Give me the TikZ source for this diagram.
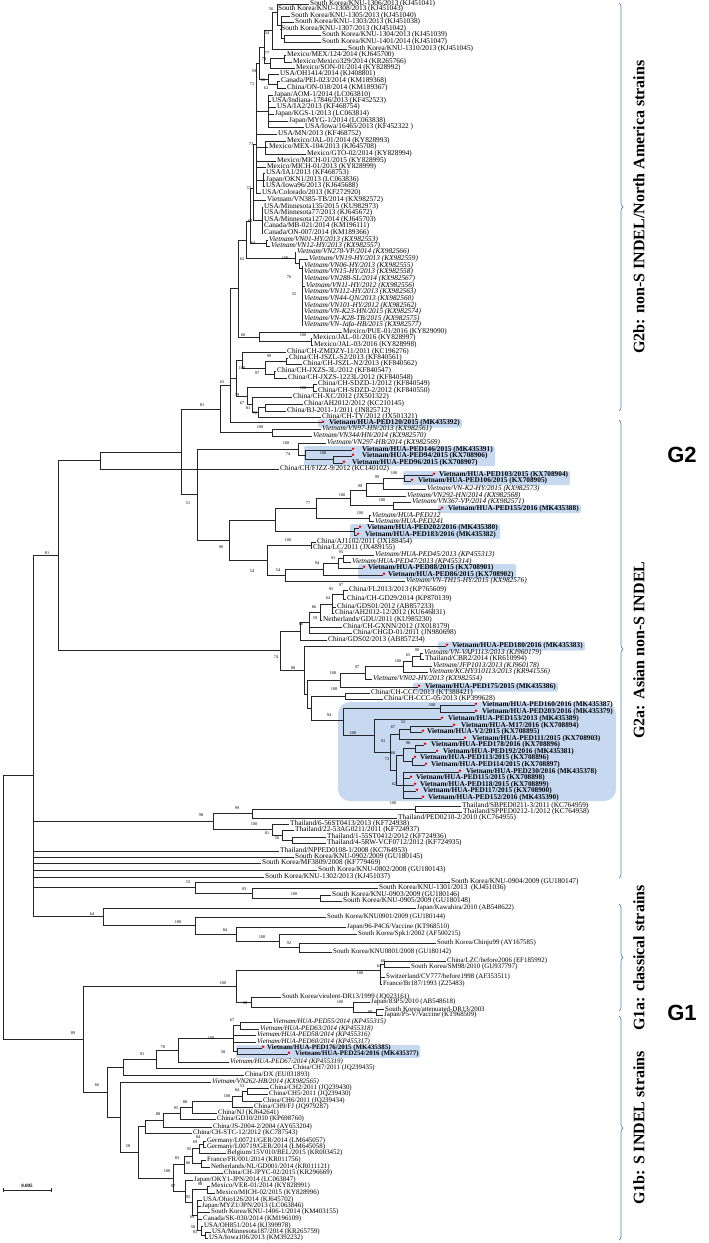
\documentclass[tikz,border=0pt]{standalone}
\usepackage{fontspec}
\setmainfont{Liberation Serif}
\newfontfamily\sansf{Liberation Sans}
\usetikzlibrary{decorations.pathreplacing}
\definecolor{hl}{RGB}{198,217,241}
\definecolor{brk}{RGB}{79,129,189}
\tikzset{
  br/.style={line width=0.6pt, draw=black!85, line cap=rect},
  lf/.style={anchor=west, inner sep=0pt, font=\fontsize{7.3}{8}\selectfont},
  li/.style={lf, font=\fontsize{7.3}{8}\selectfont\itshape},
  lb/.style={lf, font=\fontsize{7.3}{8}\selectfont\bfseries},
  lg/.style={anchor=west, inner sep=0pt, font=\fontsize{6.9}{8}\selectfont},
  lgi/.style={lg, font=\fontsize{6.9}{8}\selectfont\itshape},
  lgb/.style={lg, font=\fontsize{6.9}{8}\selectfont\bfseries},
  bsl/.style={inner sep=0pt, font=\fontsize{4.3}{5}\selectfont},
  hbox/.style={fill=hl, rounded corners=1.5pt},
  brace/.style={draw=brk, line width=0.7pt, decorate, decoration={brace, amplitude=4pt}},
  grp/.style={font=\fontsize{16}{17}\selectfont\bfseries, rotate=90, inner sep=0pt},
  big/.style={font=\sansf\fontsize{22}{23}\selectfont\bfseries, inner sep=0pt}
}
% clade: node x, ytop, ybot, list of y/x children
\newcommand\tcl[4]{\draw[br] (#1,#2) -- (#1,#3);
  \foreach \yy/\xx in {#4} {\draw[br] (#1,\yy) -- (\xx,\yy);}}
\newcommand\lfn[3]{\node[lf] (t#1) at (#2,#1) {#3};}
\newcommand\lfi[3]{\node[li] (t#1) at (#2,#1) {#3};}
\newcommand\lfb[4]{\fill[red] (#2,#1-1.2) circle (1.4); \node[lb] (t#1) at (#3,#1) {#4};}
\newcommand\lgn[3]{\node[lg] (t#1) at (#2,#1) {#3};}
\newcommand\lgi[3]{\node[lgi] (t#1) at (#2,#1) {#3};}
\newcommand\lgb[4]{\fill[red] (#2,#1-1.2) circle (1.4); \node[lgb] (t#1) at (#3,#1) {#4};}
\begin{document}
\begin{tikzpicture}[x=1pt,y=-1pt]
\useasboundingbox (0,0) rectangle (709,1243);
% highlight boxes
\fill[hbox] (318,419) rectangle (462,427.5);
\fill[hbox] (304,446) rectangle (495,466);
\fill[hbox] (403,471) rectangle (570,485);
\fill[hbox] (438,504.5) rectangle (581,513);
\fill[hbox] (350,524) rectangle (500,539);
\fill[hbox] (358,564) rectangle (516,579);
\fill[hbox] (438,641.5) rectangle (585,650.5);
\fill[hbox] (413,682.5) rectangle (558,691.5);
\fill[hl, rounded corners=12pt] (338,702) rectangle (616,801);
\fill[hbox] (236,1045) rectangle (420,1058);
% ---------------- G2b ----------------
\tcl{284}{35}{42}{35/321,42/321}
\tcl{281}{16}{38.5}{16/290,22/294,29/280,38.5/284}
\tcl{277}{4}{25}{4/309,9/277,25/281}
\tcl{272}{12}{49}{12/277,49/347}
\tcl{284}{55}{62}{55/286,62/292}
\tcl{270}{58.5}{68}{58.5/284,68/295}
\tcl{277}{81}{88}{81/280,88/286}
\tcl{268}{74}{84.5}{74/279,84.5/277}
\tcl{264}{30.5}{63}{30.5/272,63/270}
\tcl{259}{47}{79}{47/264,79/268}
\tcl{268}{95}{127}{95/273,101/271,107/276,114/274,121/288,127/304}
\tcl{265}{141}{154}{141/286,147/268,154/306}
\tcl{263}{173}{186}{173/265,180/265,186/265}
\tcl{262}{207}{233}{207/263,213/263,220/263,226/263,233/263}
\tcl{266}{240}{246}{240/268,246/270}
\tcl{256}{63}{193}{63/259,111/268,134/277,147/265,161/276,167/266,180/263,193/261}
\tcl{253}{144}{220}{144/256,200/266,220/262}
\tcl{250}{188}{243}{188/253,243/266}
\tcl{302}{266}{325}{266/303,272/303,279/303,286/305,292/303,299/303,306/303,312/303,319/303,325/303}
\tcl{299}{259}{268}{259/308,268/302}
\tcl{295}{252}{263.5}{252/296,263.5/299}
\tcl{246}{221}{258}{221/250,258/295}
\tcl{311}{338}{345}{338/312,345/313}
\tcl{259}{332}{341.5}{332/342,341.5/311}
\tcl{238}{240}{337}{240/246,337/259}
\tcl{286}{358}{364}{358/288,364/302}
\tcl{274}{371}{378}{371/276,378/287}
\tcl{265}{361}{374.5}{361/286,374.5/274}
\tcl{242}{352}{368}{352/286,368/265}
\tcl{313}{384}{391}{384/317,391/317}
\tcl{265}{404}{411}{404/303,411/286}
\tcl{258}{407.5}{417}{407.5/265,417/321}
\tcl{252}{397}{412}{397/292,412/258}
\tcl{247}{387.5}{404.5}{387.5/313,404.5/252}
\tcl{236}{360}{396}{360/242,396/247}
\tcl{230}{288}{422}{288/238,378/236,422/321.5}
\tcl{272}{429}{436}{429/321,436/312}
\tcl{220}{385}{432.5}{385/230,432.5/272}
% ---------------- G2a ----------------
\tcl{333}{456}{463}{456/351.5,463/342.5}
\tcl{305}{450}{459.5}{450/351.5,459.5/333}
\tcl{298}{443}{455}{443/326,455/305}
\tcl{404}{475}{481}{475/432.5,481/410.5}
\tcl{383}{478}{489}{478/404,489/426}
\tcl{366}{483.5}{496}{483.5/383,496/406}
\tcl{393}{502}{509}{502/411,509/440.5}
\tcl{350}{490}{505.5}{490/366,505.5/393}
\tcl{369}{515}{521}{515/371,521/374}
\tcl{316}{498}{518}{498/350,518/369}
\tcl{354}{528}{535}{528/358.5,535/356.5}
\tcl{275}{508}{531.5}{508/316,531.5/354}
\tcl{311}{542}{548}{542/316,548/312}
\tcl{343}{555}{562}{555/374,562/351}
\tcl{338}{558.5}{568}{558.5/343,568/362.5}
\tcl{323}{563}{575}{563/338,575/382.5}
\tcl{285}{569}{581}{569/323,581/405}
\tcl{267}{545}{575}{545/311,575/285}
\tcl{229}{520}{560}{520/275,560/267}
\tcl{343}{590}{599}{590/348,599/346}
\tcl{332}{594.5}{613}{594.5/343,607/336,613/334}
\tcl{320}{604}{620}{604/332,620/322}
\tcl{309}{612}{633}{612/320,627/342,633/352}
\tcl{300}{622}{640}{622/309,640/327}
\tcl{420}{653}{659}{653/423,659/424}
\tcl{412}{656}{666}{656/420,666/432}
\tcl{403}{661}{672}{661/412,672/428}
\tcl{365}{666.5}{679}{666.5/403,679/372}
\tcl{340}{673}{687}{673/365,687/417.5}
\tcl{345}{693}{699}{693/370,699/383}
\tcl{440}{705}{712}{705/474.5,712/474.5}
\tcl{410}{726}{732}{726/452.5,732/421.5}
\tcl{399}{729}{739}{729/410,739/463.5}
\tcl{415}{745}{752}{745/423.5,752/435.5}
\tcl{412}{758}{765}{758/413.5,765/424.5}
\tcl{403}{748.5}{761.5}{748.5/415,761.5/412}
\tcl{403}{772}{798}{772/458.5,778/409.5,785/413.5,791/415.5,798/421.5}
\tcl{396}{755}{785}{755/403,785/403}
\tcl{390}{734}{770}{734/399,770/396}
\tcl{374}{719}{752}{719/440.5,752/390}
\tcl{343}{708.5}{735.5}{708.5/440,735.5/374}
\tcl{311}{696}{720}{696/345,720/343}
\tcl{307}{680}{708}{680/340,708/311}
\tcl{304}{646}{694}{646/445.5,694/307}
\tcl{280}{631}{670}{631/300,670/304}
\tcl{415}{806}{812}{806/461,812/462}
\tcl{252}{809}{818}{809/415,818/397}
\tcl{292}{837}{843}{837/326,843/326}
\tcl{282}{830}{840}{830/294,840/292}
\tcl{272}{824}{835}{824/289,835/282}
\tcl{213}{813.5}{829.5}{813.5/252,829.5/272}
\tcl{320}{895}{901}{895/331,901/342}
\tcl{252}{888}{898}{888/378,898/320}
\tcl{195}{882}{893}{882/450,893/252}
\tcl{197}{449}{540}{449/298,540/229}
\tcl{181}{409}{494.5}{409/220,494.5/197}
\tcl{100}{452}{469}{452/181,469/279}
\tcl{58}{460}{650.5}{460/100,650.5/280}
\tcl{33}{555}{916.5}{555/58,821.5/213,851/279,857/294,863/261,870/317,877/264,887.5/195,916.5/103}
% ---------------- G1 ----------------
\tcl{299}{943}{952}{943/436,952/332}
\tcl{279}{934}{947.5}{934/357,947.5/299}
\tcl{236}{927}{941}{927/346,941/279}
\tcl{195}{917}{934}{917/326,934/236}
\tcl{103}{908}{925.5}{908/416,925.5/195}
\tcl{384}{961}{967}{961/446,967/410}
\tcl{380}{964}{984}{964/384,977/385,984/382}
\tcl{376}{1009}{1015}{1009/384,1015/383}
\tcl{353}{1002}{1012}{1002/370,1012/376}
\tcl{251}{997}{1007}{997/281,1007/353}
\tcl{236}{970}{1002}{970/380,1002/251}
\tcl{240}{1022}{1029}{1022/272,1029/259}
\tcl{237}{1048}{1054}{1048/261.5,1054/287.5}
\tcl{233}{1025.5}{1051}{1025.5/240,1035/256,1042/256,1051/237}
\tcl{178}{1038}{1062}{1038/233,1062/229}
\tcl{156}{1050}{1068}{1050/178,1068/292}
\tcl{123}{1059}{1075}{1059/156,1075/244}
\tcl{247}{1088}{1094}{1088/269,1094/268}
\tcl{242}{1091}{1101}{1091/247,1101/262}
\tcl{232}{1096}{1107}{1096/242,1107/253}
\tcl{192}{1101.5}{1113}{1101.5/232,1113/217}
\tcl{180}{1107}{1119}{1107/192,1119/216}
\tcl{163}{1113}{1127}{1113/180,1127/212}
\tcl{145}{1120}{1133}{1120/163,1133/192}
\tcl{203}{1141}{1147}{1141/206,1147/206}
\tcl{199}{1144}{1153}{1144/203,1153/226}
\tcl{201}{1160}{1167}{1160/206,1167/210}
\tcl{192}{1148.5}{1163.5}{1148.5/199,1163.5/201}
\tcl{184}{1156}{1173}{1156/192,1173/223}
\tcl{207}{1186}{1193}{1186/210,1193/215}
\tcl{205}{1232}{1238}{1232/211,1238/208}
\tcl{201}{1226}{1235}{1226/203,1235/205}
\tcl{197}{1200}{1230.5}{1200/202,1206/201,1212/210,1219/202,1230.5/201}
\tcl{192}{1189.5}{1215}{1189.5/207,1215/197}
\tcl{185}{1180}{1202}{1180/193,1202/192}
\tcl{173}{1164.5}{1191}{1164.5/184,1191/185}
\tcl{138}{1126.5}{1178}{1126.5/145,1178/173}
\tcl{120}{1082}{1152}{1082/211,1152/138}
\tcl{107}{1067}{1117}{1067/123,1117/120}
\tcl{83}{986}{1092}{986/236,1092/107}
\tcl{3}{775}{1039}{775/33,1039/83}
% ---------------- leaves ----------------
\lfn{4}{310}{South Korea/KNU-1306/2013 (KJ451041)}
\lfn{9}{278}{South Korea/KNU-1308/2013 (KJ451043)}
\lfn{16}{291}{South Korea/KNU-1305/2013 (KJ451040)}
\lfn{22}{295}{South Korea/KNU-1303/2013 (KJ451038)}
\lfn{29}{281}{South Korea/KNU-1307/2013 (KJ451042)}
\lfn{35}{322}{South Korea/KNU-1304/2013 (KJ451039)}
\lfn{42}{322}{South Korea/KNU-1401/2014 (KJ451047)}
\lfn{49}{348}{South Korea/KNU-1310/2013 (KJ451045)}
\lfn{55}{287}{Mexico/MEX/124/2014 (KJ645700)}
\lfn{62}{293}{Mexico/Mexico329/2014 (KR265766)}
\lfn{68}{296}{Mexico/SON-01/2014 (KY828992)}
\lfn{74}{280}{USA/OH1414/2014 (KJ408801)}
\lfn{81}{281}{Canada/PEI-023/2014 (KM189368)}
\lfn{88}{287}{China/ON-018/2014 (KM189367)}
\lfn{95}{274}{Japan/AOM-1/2014 (LC063810)}
\lfn{101}{272}{USA/Indiana-17846/2013 (KF452523)}
\lfn{107}{277}{USA/IA2/2013 (KF468754)}
\lfn{114}{275}{Japan/KGS-1/2013 (LC063814)}
\lfn{121}{289}{Japan/MYG-1/2014 (LC063838)}
\lfn{127}{305}{USA/Iowa/16465/2013 (KF452322 )}
\lfn{134}{278}{USA/MN/2013 (KF468752)}
\lfn{141}{287}{Mexico/JAL-01/2014 (KY828993)}
\lfn{147}{269}{Mexico/MEX-104/2013 (KJ645708)}
\lfn{154}{307}{Mexico/GTO-02/2014 (KY828994)}
\lfn{161}{277}{Mexico/MICH-01/2015 (KY828995)}
\lfn{167}{267}{Mexico/MICH-01/2013 (KY828999)}
\lfn{173}{266}{USA/IA1/2013 (KF468753)}
\lfn{180}{266}{Japan/OKN1/2013 (LC063836)}
\lfn{186}{266}{USA/Iowa96/2013 (KJ645688)}
\lfn{193}{262}{USA/Colorado/2013 (KF272920)}
\lfn{200}{267}{Vietnam/VN385-TB/2014 (KX982572)}
\lfn{207}{264}{USA/Minnesota135/2015 (KU982973)}
\lfn{213}{264}{USA/Minnesota77/2013 (KJ645672)}
\lfn{220}{264}{USA/Minnesota127/2014 (KJ645703)}
\lfn{226}{264}{Canada/MB-021/2014 (KM196111)}
\lfn{233}{264}{Canada/ON-007/2014 (KM189366)}
\lfi{240}{269}{Vietnam/VN01-HY/2013 (KX982553)}
\lfi{246}{271}{Vietnam/VN12-HY/2013 (KX982557)}
\lfi{252}{297}{Vietnam/VN270-VP/2014 (KX982566)}
\lfi{259}{309}{Vietnam/VN19-HY/2013 (KX982559)}
\lfi{266}{304}{Vietnam/VN06-HY/2013 (KX982555)}
\lfi{272}{304}{Vietnam/VN15-HY/2013 (KX982558)}
\lfi{279}{304}{Vietnam/VN288-SL/2014 (KX982567)}
\lfi{286}{306}{Vietnam/VN11-HY/2012 (KX982556)}
\lfi{292}{304}{Vietnam/VN112-HY/2013 (KX982563)}
\lfi{299}{304}{Vietnam/VN44-QN/2013 (KX982560)}
\lfi{306}{304}{Vietnam/VN101-HY/2012 (KX982562)}
\lfi{312}{304}{Vietnam/VN-K23-HN/2015 (KX982574)}
\lfi{319}{304}{Vietnam/VN-K28-TB/2015 (KX982575)}
\lfi{325}{304}{Vietnam/VN-Jafa-HB/2015 (KX982577)}
\lfn{332}{343}{Mexico/PUE-01/2016 (KY829090)}
\lfn{338}{313}{Mexico/JAL-01/2016 (KY828997)}
\lfn{345}{314}{Mexico/JAL-03/2016 (KY828998)}
\lfn{352}{287}{China/CH-ZMDZY-11/2011 (KC196276)}
\lfn{358}{289}{China/CH-JSZL-S2/2013 (KF840561)}
\lfn{364}{303}{China/CH-JSZL-N2/2013 (KF840562)}
\lfn{371}{277}{China/CH-JXZS-3L/2012 (KF840547)}
\lfn{378}{288}{China/CH-JXZS-1223L/2012 (KF840548)}
\lfn{384}{318}{China/CH-SDZD-1/2012 (KF840549)}
\lfn{391}{318}{China/CH-SDZD-2/2012 (KF840550)}
\lfn{397}{293}{China/CH-XC/2012 (JX501322)}
\lfn{404}{304}{China/AH2012/2012 (KC210145)}
\lfn{411}{287}{China/BJ-2011-1/2011 (JN825712)}
\lfn{417}{322}{China/CH-TY/2012 (JX501321)}
\lfb{423}{323}{329}{Vietnam/HUA-PED120/2015 (MK435392)}
\lfi{429}{322}{Vietnam/VN97-HN/2013 (KX982561)}
\lfi{436}{313}{Vietnam/VN344/HN/2014 (KX982570)}
\lfi{443}{327}{Vietnam/VN297-HB/2014 (KX982569)}
\lfb{450}{353}{362}{Vietnam/HUA-PED146/2015 (MK435391)}
\lfb{456}{353}{362}{Vietnam/HUA-PED94/2015 (KX708906)}
\lfb{463}{344}{352}{Vietnam/HUA-PED96/2015 (KX708907)}
\lfn{469}{280}{China/CH/FJZZ-9/2012 (KC140102)}
\lfb{475}{434}{439}{Vietnam/HUA-PED103/2015 (KX708904)}
\lfb{481}{412}{418}{Vietnam/HUA-PED106/2015 (KX708905)}
\lfi{489}{427}{Vietnam/VN-K2-HY/2015 (KX982573)}
\lfi{496}{407}{Vietnam/VN292-HN/2014 (KX982568)}
\lfi{502}{412}{Vietnam/VN367-VP/2014 (KX982571)}
\lfb{509}{442}{448}{Vietnam/HUA-PED155/2016 (MK435388)}
\lfi{515}{372}{Vietnam/HUA-PED212}
\lfi{521}{375}{Vietnam/HUA-PED241}
\lfb{528}{360}{367}{Vietnam/HUA-PED202/2016 (MK435380)}
\lfb{535}{358}{365}{Vietnam/HUA-PED183/2016 (MK435382)}
\lfn{542}{317}{China/AJ1102/2011 (JX188454)}
\lfn{548}{313}{China/LC/2011 (JX489155)}
\lfi{555}{375}{Vietnam/HUA-PED45/2013 (KP455313)}
\lfi{562}{352}{Vietnam/HUA-PED47/2013 (KP455314)}
\lfb{568}{364}{368}{Vietnam/HUA-PED88/2015 (KX708901)}
\lfb{575}{384}{388}{Vietnam/HUA-PED86/2015 (KX708902)}
\lfi{581}{406}{Vietnam/VN-TH15-HY/2015 (KX982576)}
\lfn{590}{349}{China/FL2013/2013 (KP765609)}
\lfn{599}{347}{China/CH-GD29/2014 (KP870139)}
\lfn{607}{337}{China/GDS01/2012 (AB857233)}
\lfn{613}{335}{China/AH2012-12/2012 (KU646831)}
\lfn{620}{323}{Netherlands/GDU/2011 (KU985230)}
\lfn{627}{343}{China/CH-GXNN/2012 (JX018179)}
\lfn{633}{353}{China/CHGD-01/2011 (JN980698)}
\lfn{640}{328}{China/GDS02/2013 (AB857234)}
\lfb{646}{447}{452}{Vietnam/HUA-PED180/2016 (MK435383)}
\lfi{653}{424}{Vietnam/VN-VAP1113/2013 (KJ960179)}
\lfn{659}{425}{Thailand/CBR2/2014 (KR610994)}
\lfi{666}{433}{Vietnam/JFP1013/2013 (KJ960178)}
\lfi{672}{429}{Vietnam/KCHY310113/2013 (KR941556)}
\lfi{679}{373}{Vietnam/VN02-HY/2013 (KX982554)}
\lfb{687}{419}{425}{Vietnam/HUA-PED175/2015 (MK435386)}
\lfn{693}{371}{China/CH-CCC/2013 (KT388421)}
\lfn{699}{384}{China/CH-CCC-05/2013 (KP399628)}
\lfb{705}{476}{482}{Vietnam/HUA-PED160/2016 (MK435387)}
\lfb{712}{476}{482}{Vietnam/HUA-PED203/2016 (MK435379)}
\lfb{719}{442}{448}{Vietnam/HUA-PED153/2013 (MK435389)}
\lfb{726}{454}{461}{Vietnam/HUA-M17/2016 (KX708894)}
\lfb{732}{423}{427}{Vietnam/HUA-V2/2015 (KX708895)}
\lfb{739}{465}{472}{Vietnam/HUA-PED111/2015 (KX708903)}
\lfb{745}{425}{431}{Vietnam/HUA-PED178/2016 (KX708896)}
\lfb{752}{437}{443}{Vietnam/HUA-PED192/2016 (MK435381)}
\lfb{758}{415}{420}{Vietnam/HUA-PED113/2015 (KX708896)}
\lfb{765}{426}{431}{Vietnam/HUA-PED114/2015 (KX708897)}
\lfb{772}{460}{466}{Vietnam/HUA-PED230/2016 (MK435378)}
\lfb{778}{411}{416}{Vietnam/HUA-PED115/2015 (KX708898)}
\lfb{785}{415}{420}{Vietnam/HUA-PED118/2015 (KX708899)}
\lfb{791}{417}{423}{Vietnam/HUA-PED117/2015 (KX708900)}
\lfb{798}{423}{428}{Vietnam/HUA-PED152/2016 (MK435390)}
\lfn{806}{462}{Thailand/SBPED0211-3/2011 (KC764959)}
\lfn{812}{463}{Thailand/SPPED0212-1/2012 (KC764958)}
\lfn{818}{398}{Thailand/PED0210-2/2010 (KC764955)}
\lfn{824}{290}{Thailand/6-56ST0413/2013 (KF724938)}
\lfn{830}{295}{Thailand/22-53AG0211/2011 (KF724937)}
\lfn{837}{327}{Thailand/1-55ST0412/2012 (KF724936)}
\lfn{843}{327}{Thailand/4-5RW-VCF0712/2012 (KF724935)}
\lfn{851}{280}{Thailand/NPPED0108-1/2008 (KC764953)}
\lfn{857}{295}{South Korea/KNU-0902/2009 (GU180145)}
\lfn{863}{262}{South Korea/MF3809/2008 (KF779469)}
\lfn{870}{318}{South Korea/KNU-0802/2008 (GU180143)}
\lfn{877}{265}{South Korea/KNU-1302/2013 (KJ451037)}
\lfn{882}{451}{South Korea/KNU-0904/2009 (GU180147)}
\lfn{888}{379}{South Korea/KNU-1301/2013 \ (KJ451036)}
\lfn{895}{332}{South Korea/KNU-0903/2009 (GU180146)}
\lfn{901}{343}{South Korea/KNU-0905/2009 (GU180148)}
\lgn{908}{417}{Japan/Kawahira/2010 (AB548622)}
\lgn{917}{327}{South Korea/KNU0901/2009 (GU180144)}
\lgn{927}{347}{Japan/96-P4C6/Vaccine (KT968510)}
\lgn{934}{358}{South Korea/Spk1/2002 (AF500215)}
\lgn{943}{437}{South Korea/Chinju99 (AY167585)}
\lgn{952}{333}{South Korea/KNU0801/2008 (GU180142)}
\lgn{961}{447}{China/LZC/before2006 (EF185992)}
\lgn{967}{411}{South Korea/SM98/2010 (GU937797)}
\lgn{977}{386}{Switzerland/CV777/before1998 (AF353511)}
\lgn{984}{383}{France/Br187/1993 (Z25483)}
\lgn{997}{282}{South Korea/virulent-DR13/1999 (JQ023161)}
\lgn{1002}{371}{Japan/83P5/2010 (AB548618)}
\lgn{1009}{385}{South Korea/attenuated-DR13/2003}
\lgn{1015}{384}{Japan/P5-V/Vaccine (KT968509)}
\lgi{1022}{273}{Vietnam/HUA-PED55/2014 (KP455315)}
\lgi{1029}{260}{Vietnam/HUA-PED63/2014 (KP455318)}
\lgi{1035}{257}{Vietnam/HUA-PED58/2014 (KP455316)}
\lgi{1042}{257}{Vietnam/HUA-PED60/2014 (KP455317)}
\lgb{1048}{263}{267}{Vietnam/HUA-PED176/2015 (MK435385)}
\lgb{1054}{289}{295}{Vietnam/HUA-PED254/2016 (MK435377)}
\lgi{1062}{230}{Vietnam/HUA-PED67/2014 (KP455319)}
\lgn{1068}{293}{China/CH7/2011 (JQ239435)}
\lgn{1075}{245}{China/DX (EU031893)}
\lgi{1082}{212}{Vietnam/VN262-HB/2014 (KX982565)}
\lgn{1088}{270}{China/CH2/2011 (JQ239430)}
\lgn{1094}{269}{China/CH5/2011 (JQ239430)}
\lgn{1101}{263}{China/CH6/2011 (JQ239434)}
\lgn{1107}{254}{China/CH9/FJ (JQ979287)}
\lgn{1113}{218}{China/NJ (KJ642641)}
\lgn{1119}{217}{China/GD10/2010 (KP698760)}
\lgn{1127}{213}{China/JS-2004-2/2004 (AY653204)}
\lgn{1133}{193}{China/CH-STC-12/2012 (KC787543)}
\lgn{1141}{207}{Germany/L00721/GER/2014 (LM645057)}
\lgn{1147}{207}{Germany/L00719/GER/2014 (LM645058)}
\lgn{1153}{227}{Belgium/15V010/BEL/2015 (KR003452)}
\lgn{1160}{207}{France/FR/001/2014 (KR011756)}
\lgn{1167}{211}{Netherlands/NL/GD001/2014 (KR011121)}
\lgn{1173}{224}{China/CH-JPYC-02/2015 (KR296669)}
\lgn{1180}{194}{Japan/OKY1-JPN/2014 (LC063847)}
\lgn{1186}{211}{Mexico/VER-01/2014 (KY828991)}
\lgn{1193}{216}{Mexico/MICH-02/2015 (KY828996)}
\lgn{1200}{203}{USA/Ohio126/2014 (KJ645702)}
\lgn{1206}{202}{Japan/MYZ1/JPN/2013 (LC063846)}
\lgn{1212}{211}{South Korea/KNU-1406-1/2014 (KM403155)}
\lgn{1219}{203}{Canada/SK-030/2014 (KM196109)}
\lgn{1226}{204}{USA/OH851/2014 (KJ399978)}
\lgn{1232}{212}{USA/Minnesota187/2014 (KR265759)}
\lgn{1238}{209}{USA/Iowa106/2013 (KM392232)}
% ---------------- support values ----------------
\foreach \a/\b/\c in {271/9/56,267/33/54,267/53/77,264/59/74,254/71/59,263/80/66,252/84/71,266/88/62,251/144/73,249/188/57,250/221/60,253/243/64,242/259/62,285/258/100,289/277/76,294/294/55,243/335/60,303/335/100,269/356/99,242/368/100,257/373/97,222/382/65,303/388/100,237/395/79,242/403/67,202/405/81,248/408/81,255/413/72,260/427/100,286/443/100,288/454/74,323/453/100,394/473/100,377/477/99,360/486/90,342/495/100,382/500/100,308/503/77,188/503/51,360/513/100,221/547/90,288/540/100,341/552/95,333/558/91,317/563/94,278/570/54,252/571/54,341/585/97,331/589/95,328/598/64,314/607/86,315/618/59,301/624/86,276/657/74,293/668/80,417/650/90,408/655/65,398/661/100,357/667/97,333/673/100,334/689/100,432/705/100,329/715/94,403/722/53,393/727/67,353/733/100,383/741/91,408/743/98,393/753/60,387/759/72,394/784/62,393/803/100,237/808/99,201/815/98,254/824/100,267/833/81,277/838/56,188/882/53,244/889/93,294/894/100,47/553/81,92/914/64,178/922/100,225/930/84,262/937/100,289/943/92,383/961/60,379/966/64,360/973/100,223/983/100,245/1003/58,340/1002/100,370/1012/99,232/1020/67,211/1038/100,163/1047/70,223/1052/58,142/1054/91,73/1033/89,97/1085/66,242/1086/53,237/1090/84,227/1096/100,185/1102/88,176/1108/95,158/1114/88,198/1137/84,195/1142/69,189/1149/95,128/1146/58,177/1158/83,188/1163/86,167/1171/100,200/1184/98,173/1186/97,188/1197/95,192/1217/69,193/1227/58,195/1232/83}
  {\node[bsl] (b\a-\b) at (\a,\b) {\c};}
% scale bar
\coordinate (sbl) at (3,1190);
\coordinate (sbr) at (51,1190);
\draw[br] (sbl) -- (sbr);
\draw[br] (3,1188) -- (3,1192);
\draw[br] (51,1188) -- (51,1192);
\node[inner sep=0pt, font=\fontsize{5}{6}\selectfont\bfseries] (scl) at (27,1186) {0.005};
% group brackets
\draw[brace] (619,3) -- (619,411);
\draw[brace] (619,420) -- (619,878);
\draw[brace] (619,904) -- (619,1011);
\draw[brace] (619,1016) -- (619,1240);
\node[grp] (g2b) at (639,207) {G2b: non-S INDEL/North America strains};
\node[grp] (g2a) at (639,650) {G2a: Asian non-S INDEL};
\node[grp] (g1a) at (639,958) {G1a: classical strains};
\node[grp] (g1b) at (639,1128) {G1b: S INDEL strains};
\node[big] (G2) at (682,455) {G2};
\node[big] (G1) at (682,1013) {G1};
\end{tikzpicture}
\end{document}
